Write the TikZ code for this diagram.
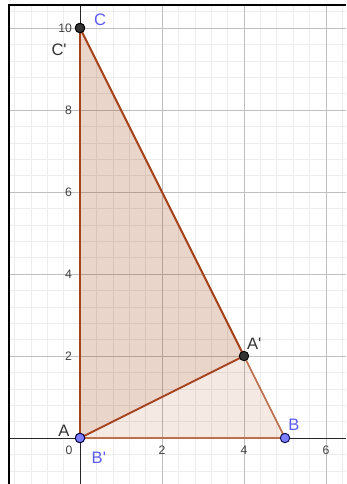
\documentclass[tikz,border=0pt]{standalone}
\usepackage{fontspec}
\setmainfont{Liberation Sans}
\definecolor{tribrown}{RGB}{153,51,0}
\definecolor{edgedark}{RGB}{165,68,28}
\definecolor{edgelight}{RGB}{188,112,78}
\definecolor{ptblue}{RGB}{125,125,255}
\definecolor{lblblue}{RGB}{90,90,240}
\begin{document}
\begin{tikzpicture}[x=1cm,y=1cm,
			mycirc/.style={circle,draw=black,fill=black!80,inner sep=0pt,minimum size=.23cm,line width=.6pt},
			bluecirc/.style={mycirc,draw=blue!30!black,fill=ptblue},
			ptlbl/.style={font=\fontsize{11.5}{13}\selectfont,text=black!80,inner sep=0pt},
			bluelbl/.style={ptlbl,text=lblblue},
			ticklbl/.style={font=\fontsize{8.5}{10}\selectfont,text=black!75,inner sep=0pt},
			minorgrid/.style={draw=black!7,line width=.4pt},
			majorgrid/.style={draw=black!25,line width=.5pt},
			trifill/.style={fill=tribrown,fill opacity=.11}
			]
			\useasboundingbox (-1.951,-1.122) rectangle (6.488,10.683);
			%%%%%%%%%%%%%%% grid and axes
			\coordinate (fbl) at (-1.73,-1.122);
			\coordinate (ftl) at (-1.73,10.56);
			\coordinate (ftr) at (6.488,10.56);
			\begin{scope}
				\clip (fbl) rectangle (ftr);
				\draw[minorgrid] (-2,-2) grid[step=.4] (7,11);
				\draw[majorgrid] (-2,-2) grid[step=2] (7,11);
			\end{scope}
			\coordinate (xl) at (-1.73,0);
			\coordinate (xr) at (6.488,0);
			\coordinate (yb) at (0,-1.122);
			\coordinate (yt) at (0,10.56);
			\draw[black!85,line width=.5pt] (xl) -- (xr);
			\draw[black!85,line width=.5pt] (yb) -- (yt);
			\draw[black,line width=1.4pt] (fbl) -- (ftl) -- (ftr);
			\foreach \x in {2,4,6} \node[ticklbl] at (\x,-0.29) {\x};
			\foreach \y in {2,4,6,8,10} \node[ticklbl,anchor=east] at (-0.19,\y) {\y};
			\node[ticklbl] (o) at (-0.27,-0.29) {0};
			%%%%%%%%%%%%%%% triangles
			\coordinate (A) at (0,0);
			\coordinate (B) at (5,0);
			\coordinate (C) at (0,10);
			\coordinate (A') at (4,2);
			\coordinate (B') at (0,0);
			\coordinate (C') at (0,10);
			\fill[trifill] (A) -- (B) -- (C) -- cycle;
			\fill[trifill] (A') -- (B') -- (C') -- cycle;
			\draw[edgelight,line width=1.2pt,line join=round] (A) -- (B) -- (C) -- cycle;
			\draw[edgedark,line width=1.3pt,line join=round] (A') -- (B') -- (C') -- cycle;
			%%%%%%%%%%%%%%% points
			\node[mycirc, label={[ptlbl,xshift=-.39cm,yshift=.17cm]center:A}] (pA) at (A) {};
			\node[bluecirc, label={[bluelbl,xshift=.22cm,yshift=.32cm]center:B}] (pB) at (B) {};
			\node[mycirc, label={[ptlbl,xshift=-.51cm,yshift=-.54cm]center:C\textquotesingle}] (pC') at (C') {};
			\node[mycirc, label={[bluelbl,xshift=.49cm,yshift=.2cm]center:C}] (pC) at (C) {};
			\node[mycirc, label={[ptlbl,xshift=.25cm,yshift=.29cm]center:A\textquotesingle}] (pA') at (A') {};
			\node[bluecirc, label={[bluelbl,xshift=.46cm,yshift=-.49cm]center:B\textquotesingle}] (pB') at (B') {};
		\end{tikzpicture}
\end{document}
